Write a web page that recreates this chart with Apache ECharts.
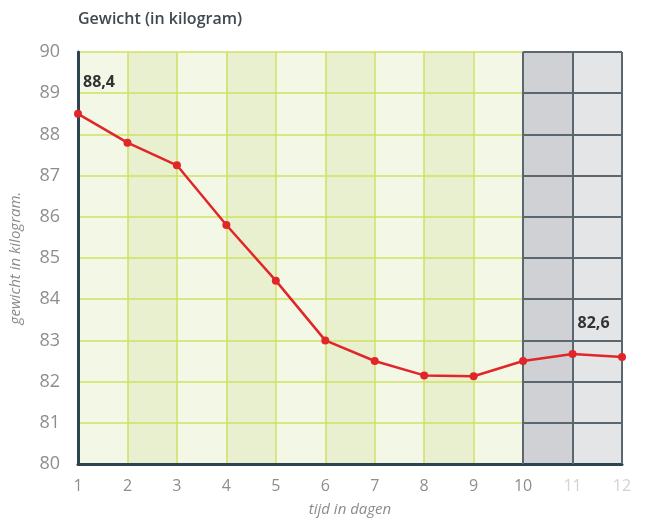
<!DOCTYPE html>
<html>
<head>
<meta charset="utf-8">
<script src="https://cdn.jsdelivr.net/npm/echarts@6/dist/echarts.min.js"></script>
<style>html,body{margin:0;padding:0;background:#fff}#c{width:654px;height:532px}</style>
</head>
<body>
<div id="c"></div>
<script>
const days = [1, 2, 3, 4, 5, 6, 7, 8, 9, 10, 11, 12];
const weights = [88.5, 87.8, 87.25, 85.8, 84.45, 83.0, 82.5, 82.15, 82.13, 82.5, 82.67, 82.6];
const pointLabels = ['88,4', '', '', '', '', '', '', '', '', '', '82,6', ''];
const bandStarts = [1, 2, 3, 4, 5, 6, 7, 8, 9, 10, 11];
const bandColors = ['#f3f7e6', '#e9f0cf', '#f3f7e6', '#e9f0cf', '#f3f7e6', '#e9f0cf', '#f3f7e6', '#e9f0cf', '#f3f7e6', '#d0d1d4', '#e4e5e7'];
const futureStart = 10;
const yTicks = [80, 81, 82, 83, 84, 85, 86, 87, 88, 89, 90];

const chart = echarts.init(document.getElementById('c'));

const areaData = bandStarts.map((s, i) => [
  { xAxis: s, yAxis: 80, itemStyle: { color: bandColors[i] } },
  { xAxis: s + 1, yAxis: 90 }
]);

const darkLines = [];
yTicks.slice(1).forEach(y => darkLines.push([{ coord: [futureStart, y] }, { coord: [12, y] }]));
[10, 11, 12].forEach(x => darkLines.push([{ coord: [x, 80] }, { coord: [x, 90] }]));

chart.setOption({
  animation: false,
  title: {
    text: 'Gewicht (in kilogram)',
    left: 73, top: 6,
    textStyle: { fontFamily: 'Open Sans', fontSize: 16, fontWeight: 600, color: '#3f4850' }
  },
  grid: { left: 78, right: 32, top: 52, bottom: 68 },
  xAxis: {
    type: 'value', min: 1, max: 12, interval: 1, z: 3,
    name: 'tijd in dagen', nameLocation: 'middle', nameGap: 38,
    nameTextStyle: { fontFamily: 'Open Sans', fontStyle: 'italic', fontSize: 15, color: '#8c8c8c' },
    axisLine: { show: true, onZero: false, lineStyle: { color: '#2d4450', width: 3 } },
    axisTick: { show: false },
    splitLine: { show: true, lineStyle: { color: '#cfe063', width: 1.5 } },
    axisLabel: {
      margin: 14,
      formatter: v => (v > futureStart ? '{f|' + v + '}' : '{p|' + v + '}'),
      rich: {
        p: { fontFamily: 'Open Sans', fontSize: 16, color: '#8e8e8e' },
        f: { fontFamily: 'Open Sans', fontSize: 16, color: '#d2d2d2' }
      }
    }
  },
  yAxis: {
    type: 'value', min: 80, max: 90, interval: 1, z: 3,
    name: 'gewicht in kilogram.', nameLocation: 'middle', nameGap: 55,
    nameTextStyle: { fontFamily: 'Open Sans', fontStyle: 'italic', fontSize: 15, color: '#8c8c8c' },
    axisLine: { show: true, lineStyle: { color: '#2d4450', width: 3 } },
    axisTick: { show: false },
    splitLine: { show: true, lineStyle: { color: '#cfe063', width: 1.5 } },
    axisLabel: { margin: 18, fontFamily: 'Open Sans', fontSize: 18, color: '#8e8e8e' }
  },
  series: [
    {
      type: 'line', data: [], z: 1, silent: true,
      markArea: { silent: true, data: areaData }
    },
    {
      type: 'line', data: [], z: 4, silent: true,
      markLine: {
        silent: true, symbol: ['none', 'none'],
        label: { show: false },
        lineStyle: { color: '#5b6770', width: 2, type: 'solid' },
        data: darkLines
      }
    },
    {
      type: 'line', z: 5,
      data: days.map((d, i) => [d, weights[i]]),
      symbol: 'circle', symbolSize: 8,
      lineStyle: { color: '#e1262a', width: 2.5 },
      itemStyle: { color: '#e1262a' },
      label: {
        show: true, position: 'top', align: 'left', offset: [5, -14],
        formatter: p => pointLabels[p.dataIndex],
        fontFamily: 'Open Sans', fontWeight: 'bold', fontSize: 16, color: '#333333'
      }
    }
  ]
});
</script>
</body>
</html>
